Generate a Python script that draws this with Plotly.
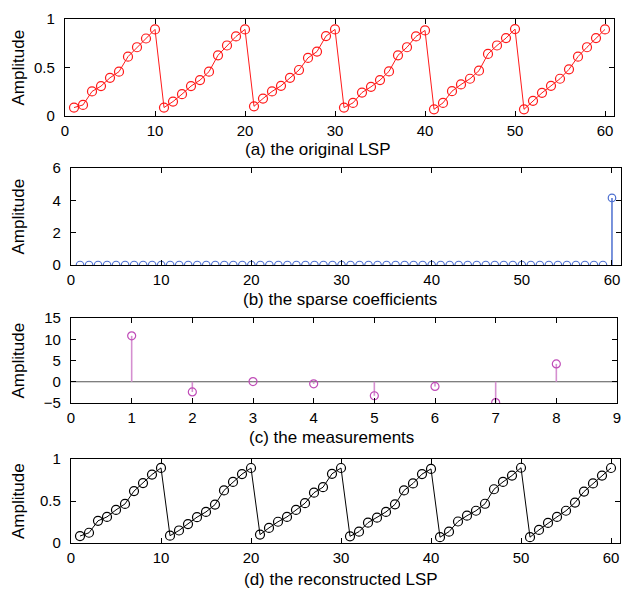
import plotly.graph_objects as go

# ---- data -------------------------------------------------------------
n_index = list(range(1, 61))

lsp_original = [0.087, 0.114, 0.253, 0.308, 0.394, 0.457, 0.612, 0.709, 0.799, 0.893,
                0.087, 0.149, 0.225, 0.308, 0.370, 0.457, 0.626, 0.727, 0.820, 0.893,
                0.100, 0.180, 0.253, 0.311, 0.394, 0.474, 0.599, 0.664, 0.824, 0.893,
                0.087, 0.135, 0.242, 0.301, 0.370, 0.460, 0.626, 0.709, 0.820, 0.882,
                0.069, 0.135, 0.256, 0.325, 0.384, 0.467, 0.640, 0.727, 0.803, 0.896,
                0.069, 0.156, 0.239, 0.311, 0.384, 0.481, 0.612, 0.709, 0.803, 0.893]

sparse_coeffs = [0.0] * 59 + [4.15]

m_index = list(range(1, 9))
measurements = [10.8, -2.4, 0.05, -0.5, -3.3, -1.1, -4.9, 4.2]

lsp_reconstructed = [0.083, 0.122, 0.264, 0.311, 0.394, 0.465, 0.618, 0.713, 0.815, 0.894,
                     0.087, 0.149, 0.225, 0.308, 0.370, 0.457, 0.626, 0.727, 0.820, 0.893,
                     0.100, 0.180, 0.253, 0.311, 0.394, 0.474, 0.599, 0.664, 0.824, 0.893,
                     0.080, 0.135, 0.242, 0.301, 0.370, 0.460, 0.626, 0.709, 0.820, 0.882,
                     0.069, 0.135, 0.256, 0.325, 0.384, 0.467, 0.640, 0.727, 0.803, 0.896,
                     0.069, 0.156, 0.239, 0.311, 0.384, 0.481, 0.612, 0.709, 0.803, 0.893]

captions = ["(a) the original LSP", "(b) the sparse coefficients",
            "(c) the measurements", "(d) the reconstructed LSP"]

W, H = 625, 590
FONT = "Liberation Sans, Arial, sans-serif"


def stems(xs, ys):
    sx, sy = [], []
    for x, y in zip(xs, ys):
        sx += [x, x, None]
        sy += [0, y, None]
    return sx, sy


fig = go.Figure()

# (a) original LSP
fig.add_trace(go.Scatter(x=n_index, y=lsp_original, mode="lines+markers",
                         line=dict(color="#ff1a1a", width=1),
                         marker=dict(symbol="circle-open", size=9, color="#ff1a1a",
                                     line=dict(width=1.2)),
                         xaxis="x", yaxis="y", showlegend=False))

# (b) sparse coefficients (stem plot)
sx, sy = stems(n_index, sparse_coeffs)
fig.add_trace(go.Scatter(x=sx, y=sy, mode="lines", line=dict(color="#4d6fd0", width=1.5),
                         xaxis="x2", yaxis="y2", showlegend=False))
fig.add_trace(go.Scatter(x=n_index, y=sparse_coeffs, mode="markers",
                         marker=dict(symbol="circle-open", size=7.5, color="#4d6fd0",
                                     line=dict(width=1.2)),
                         xaxis="x2", yaxis="y2", showlegend=False))

# (c) measurements (stem plot)
sx, sy = stems(m_index, measurements)
fig.add_trace(go.Scatter(x=sx, y=sy, mode="lines", line=dict(color="#d58fd0", width=1.6),
                         xaxis="x3", yaxis="y3", showlegend=False))
fig.add_trace(go.Scatter(x=m_index, y=measurements, mode="markers",
                         marker=dict(symbol="circle-open", size=8, color="#c04cb8",
                                     line=dict(width=1.2)),
                         xaxis="x3", yaxis="y3", showlegend=False))

# (d) reconstructed LSP
fig.add_trace(go.Scatter(x=n_index, y=lsp_reconstructed, mode="lines+markers",
                         line=dict(color="black", width=1),
                         marker=dict(symbol="circle-open", size=9, color="black",
                                     line=dict(width=1.2)),
                         xaxis="x4", yaxis="y4", showlegend=False))

# axes boxes in pixels: (left, right, top, bottom)
boxes = [(65, 614, 19, 116), (71, 621, 168, 265), (71, 617, 318, 403), (71, 620, 459, 543)]
xranges = [[0, 61], [0, 61], [0, 9], [0, 61]]
xticks = [list(range(0, 61, 10)), list(range(0, 61, 10)), list(range(0, 10)), list(range(0, 61, 10))]
yranges = [[0, 1], [0, 6], [-5, 15], [0, 1]]
yticks = [[0, 0.5, 1], [0, 2, 4, 6], [-5, 0, 5, 10, 15], [0, 0.5, 1]]
yticktext = [["0", "0.5", "1"], None, None, ["0", "0.5", "1"]]
caption_pos = [(318, 149), (340, 299), (331, 437), (341, 579)]

axis_common = dict(showline=True, linecolor="black", linewidth=1.3, mirror="ticks",
                   ticks="inside", ticklen=5, tickwidth=1, tickcolor="black",
                   showgrid=False, zeroline=False, automargin=False,
                   tickfont=dict(family=FONT, size=15, color="black"))

annotations = []
for i, (l, r, t, b) in enumerate(boxes):
    k = "" if i == 0 else str(i + 1)
    fig.layout["xaxis" + k] = dict(domain=[l / W, r / W], range=xranges[i],
                                   tickvals=xticks[i], anchor="y" + k,
                                   ticklabelstandoff=1, **axis_common)
    yax = dict(domain=[1 - b / H, 1 - t / H], range=yranges[i], tickvals=yticks[i],
               anchor="x" + k, ticklabelstandoff=6, **axis_common)
    if yticktext[i]:
        yax["ticktext"] = yticktext[i]
    fig.layout["yaxis" + k] = yax
    annotations.append(dict(text="Amplitude", xref="paper", yref="paper",
                            x=18 / W, y=1 - (t + b) / 2 / H, textangle=-90,
                            showarrow=False, xanchor="center", yanchor="middle",
                            font=dict(family=FONT, size=17, color="black")))
    cx, cy = caption_pos[i]
    annotations.append(dict(text=captions[i], xref="paper", yref="paper",
                            x=cx / W, y=1 - cy / H, showarrow=False,
                            xanchor="center", yanchor="middle",
                            font=dict(family=FONT, size=17, color="black")))

fig.update_layout(
    width=W, height=H, margin=dict(l=0, r=0, t=0, b=0),
    paper_bgcolor="white", plot_bgcolor="white",
    annotations=annotations,
    shapes=[dict(type="line", xref="x3 domain", yref="y3", x0=0, x1=1, y0=0, y1=0,
                 line=dict(color="#555555", width=1), layer="below")],
)

fig.write_html("out.html")
